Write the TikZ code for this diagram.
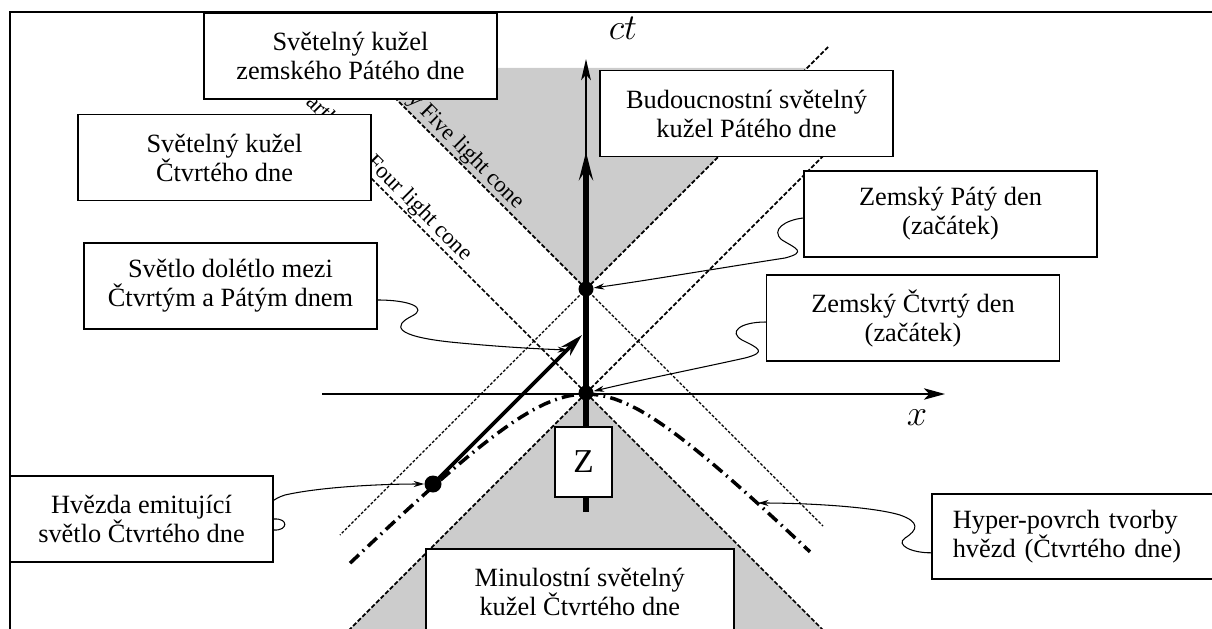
\documentclass[tikz,border=0pt]{standalone}
\usepackage{fontspec}
\setmainfont{Liberation Serif}
\usetikzlibrary{arrows.meta}

\definecolor{conegray}{RGB}{204, 204, 204}

\pgfdeclarelayer{back}
\pgfsetlayers{back,main}

\tikzset{
    txtbox/.style={draw, fill=white, line width=0.9pt, minimum width=5.86cm, minimum height=1.72cm,
        inner sep=0pt, align=center, font=\fontsize{15}{16.5}\selectfont},
    cone/.style={dash pattern=on 2.5pt off 1.2pt, line width=1pt},
    thincone/.style={dash pattern=on 1.6pt off 1pt, line width=0.7pt},
    conelabel/.style={rotate=-45, inner sep=1pt, anchor=base east, font=\fontsize{13}{15}\selectfont},
    event/.style={circle, fill, inner sep=0pt, minimum size=0.3cm},
    axis/.style={line width=1.1pt},
    world/.style={line width=3pt},
    ray/.style={line width=2.2pt, -{Stealth[length=13pt, width=7pt, inset=4pt]}},
    starsurf/.style={line width=2pt, dash pattern=on 7pt off 3pt on 1pt off 3pt},
    callout/.style={line width=0.6pt, -{Stealth[length=6pt, width=3.5pt]}}
}

\begin{document}
\begin{tikzpicture}[x=0.02cm, y=-0.02cm]
            \useasboundingbox (0, 0) rectangle (1212, 628);
            \clip (0, 0) rectangle (1212, 628);

            \node[txtbox] (cone5) at (350.5, 56) {Světelný kužel\\zemského Pátého dne};
            \node[txtbox] (cone4) at (224.5, 157.5) {Světelný kužel\\Čtvrtého dne};
            \node[txtbox] (arrive) at (230.5, 286) {Světlo dolétlo mezi\\Čtvrtým a Pátým dnem};
            \node[txtbox] (future5) at (746.5, 113.5) {Budoucnostní světelný\\kužel Pátého dne};
            \node[txtbox] (earth5) at (950.5, 214) {Zemský Pátý den\\(začátek)};
            \node[txtbox] (earth4) at (913, 318) {Zemský Čtvrtý den\\(začátek)};
            \node[txtbox, minimum width=5.26cm] (emit) at (141.5, 519) {Hvězda emitující\\světlo Čtvrtého dne};
            \node[txtbox, anchor=north west, minimum height=1.7cm, align=left, text width=5.16cm, inner xsep=0.42cm]
                (surf) at (931, 493) {Hyper-povrch tvorby\\hvězd (Čtvrtého dne)};
            \node[txtbox, anchor=north west, minimum width=6.16cm] (past4) at (425, 548) {Minulostní světelný\\kužel Čtvrtého dne};
            \node[txtbox, minimum width=1.14cm, minimum height=1.4cm, font=\fontsize{19}{22}\selectfont] (earth) at (583.5, 462) {Z};

            \begin{pgfonlayer}{back}
            \coordinate (o5) at (586, 289);
            \coordinate (o4) at (586, 393);

            \fill[conegray] (o5) -- (365, 68) -- (807, 68) -- cycle;
            \fill[conegray] (o4) -- (340, 639) -- (832, 639) -- cycle;

            \draw[cone] (o5) -- (360, 63);
            \draw[cone] (o5) -- (828, 47);
            \draw[thincone] (o5) -- (340, 535);
            \draw[thincone] (o5) -- (823, 526);
            \draw[cone] (o4) -- (310, 117);
            \draw[cone] (o4) -- (840, 139);
            \draw[cone] (o4) -- (340, 639);
            \draw[cone] (o4) -- (832, 639);

            \node[conelabel] (label5) at (517.7, 211.3) {y Five light cone};
            \node[conelabel] (label4) at (465.7, 263.3) {Four light cone};
            \node[conelabel] (label4b) at (332.1, 129.7) {arth};

            \draw[starsurf] plot[domain=-2.36:2.24, samples=60, variable=\t]
                ({586 + 100 * \t}, {394 + 100 * (sqrt(\t * \t + 0.64) - 0.8)});

            \coordinate (ctbot) at (586, 512);
            \coordinate (cttop) at (586, 59);
            \coordinate (worldtop) at (586, 152);
            \coordinate (xleft) at (322, 394);
            \coordinate (xright) at (945, 394);
            \draw[axis, -{Stealth[length=12pt, width=5.5pt, inset=3pt]}] (ctbot) -- (cttop);
            \draw[axis, -{Stealth[length=12pt, width=6.5pt, inset=3pt]}] (xleft) -- (xright);
            \draw[world, -{Stealth[length=16pt, width=8pt, inset=6pt]}] (ctbot) -- (worldtop);
            \node[font=\fontsize{20}{24}\selectfont] (ctlabel) at (623, 28) {$ct$};
            \node[font=\fontsize{20}{24}\selectfont] (xlabel) at (917, 418) {$x$};

            \node[event, minimum size=0.34cm] (star) at (433, 484) {};
            \coordinate (rayend) at (582, 335);
            \draw[ray] (star.center) -- (rayend);

            \node[event] (day5) at (o5) {};
            \node[event] (day4) at (o4) {};

            \coordinate (rayhit) at (568, 350);
            \coordinate (surfhit) at (758, 503);

            \draw[callout] ([yshift=-0.28cm]arrive.east) .. controls (410, 300) and (428, 308) .. (412, 316)
                .. controls (392, 326) and (395, 336) .. (450, 342) .. controls (500, 347) and (540, 349) .. (rayhit);
            \draw[callout] ([yshift=-0.08cm]earth5.west) .. controls (785, 220) and (770, 230) .. (782, 240)
                .. controls (795, 248) and (808, 252) .. (785, 258) .. controls (720, 268) and (650, 280) .. (day5);
            \draw[callout] ([yshift=-0.08cm]earth4.west) .. controls (740, 322) and (728, 332) .. (742, 340)
                .. controls (758, 348) and (768, 352) .. (745, 358) .. controls (700, 368) and (640, 380) .. (day4);
            \draw[callout] ([yshift=-0.22cm]emit.east) .. controls (288, 531) and (289, 518) .. (emit.east)
                .. controls (262, 519) and (262, 502) .. (285, 495) .. controls (320, 487) and (380, 484) .. (star);
            \draw[callout] ([yshift=-0.33cm]surf.west) .. controls (912, 553) and (895, 545) .. (905, 538)
                .. controls (918, 530) and (920, 522) .. (900, 515) .. controls (870, 506) and (800, 503) .. (surfhit);
            \end{pgfonlayer}

            \draw[line width=0.9pt] (10, 12) rectangle (1240, 660);
        \end{tikzpicture}
\end{document}
